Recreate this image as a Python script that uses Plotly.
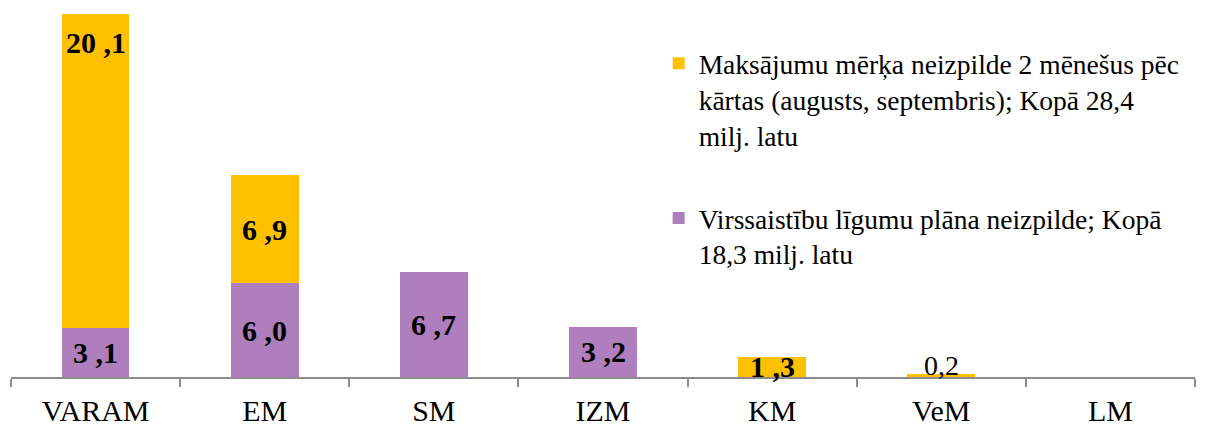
import plotly.graph_objects as go

categories = ["VARAM", "EM", "SM", "IZM", "KM", "VeM", "LM"]
# milj. latu
virssaistibas = [3.1, 6.0, 6.7, 3.2, 0, 0, 0]
maksajumi = [20.1, 6.9, 0, 0, 1.3, 0.2, 0]

name_maks = "Maksājumu mērķa neizpilde 2 mēnešus pēc<br>kārtas (augusts, septembris); Kopā 28,4<br>milj. latu"
name_virs = "Virssaistību līgumu plāna neizpilde; Kopā<br>18,3 milj. latu"

YELLOW = "#FFC000"
PURPLE = "#AF7FBD"
FONT = "Liberation Serif, Times New Roman, serif"
AXIS = "#8C8C8C"

def fmt(v, spaced=True):
    s = f"{v:.1f}".split(".")
    return f"{s[0]} ,{s[1]}" if spaced else f"{s[0]},{s[1]}"

fig = go.Figure()
fig.add_trace(go.Bar(x=categories, y=virssaistibas, name=name_virs,
                     marker=dict(color=PURPLE, line=dict(width=0)), legend="legend2"))
fig.add_trace(go.Bar(x=categories, y=maksajumi, name=name_maks,
                     marker=dict(color=YELLOW, line=dict(width=0)), legend="legend"))

# data labels
label_font = dict(family=FONT, size=30, color="black")
annotations = []
for cat, v in zip(categories, virssaistibas):
    if v > 0:
        annotations.append(dict(x=cat, y=v / 2, text=f"<b>{fmt(v)}</b>", showarrow=False,
                                font=label_font))
for cat, base, v in zip(categories, virssaistibas, maksajumi):
    if v <= 0:
        continue
    if v >= 10:
        # tall segment: label at the inside end
        annotations.append(dict(x=cat, y=base + v, yanchor="top", yshift=-10,
                                text=f"<b>{fmt(v)}</b>", showarrow=False, font=label_font))
    elif v < 0.5:
        # too thin: plain label above the bar
        annotations.append(dict(x=cat, y=base + v, yanchor="bottom", yshift=-9,
                                text=fmt(v, spaced=False), showarrow=False,
                                font=dict(family=FONT, size=28, color="black")))
    else:
        annotations.append(dict(x=cat, y=base + v / 2, text=f"<b>{fmt(v)}</b>", showarrow=False,
                                font=label_font))

legend_style = dict(xanchor="left", yanchor="top", bgcolor="rgba(0,0,0,0)",
                    font=dict(family=FONT, size=27.5, color="black"), valign="top", itemwidth=30)

fig.update_layout(
    barmode="stack",
    bargap=0.6,
    width=1217, height=425,
    margin=dict(l=3, r=30, t=0, b=56, autoexpand=False),
    plot_bgcolor="white", paper_bgcolor="white",
    font=dict(family=FONT, size=27, color="black"),
    annotations=annotations,
    legend=dict(x=0.547, y=0.916, **legend_style),
    legend2=dict(x=0.547, y=0.497, **legend_style),
    showlegend=True,
)
fig.update_xaxes(showline=True, linecolor=AXIS, linewidth=1.5, ticks="outside",
                 tickson="boundaries", ticklen=8, tickcolor=AXIS, tickwidth=1.5,
                 tickangle=0, tickfont=dict(family=FONT, size=30, color="black"),
                 ticklabelstandoff=6, showgrid=False, automargin=False)
fig.update_yaxes(range=[0, 23.58], visible=False, showgrid=False, automargin=False)

fig.write_html("out.html")
